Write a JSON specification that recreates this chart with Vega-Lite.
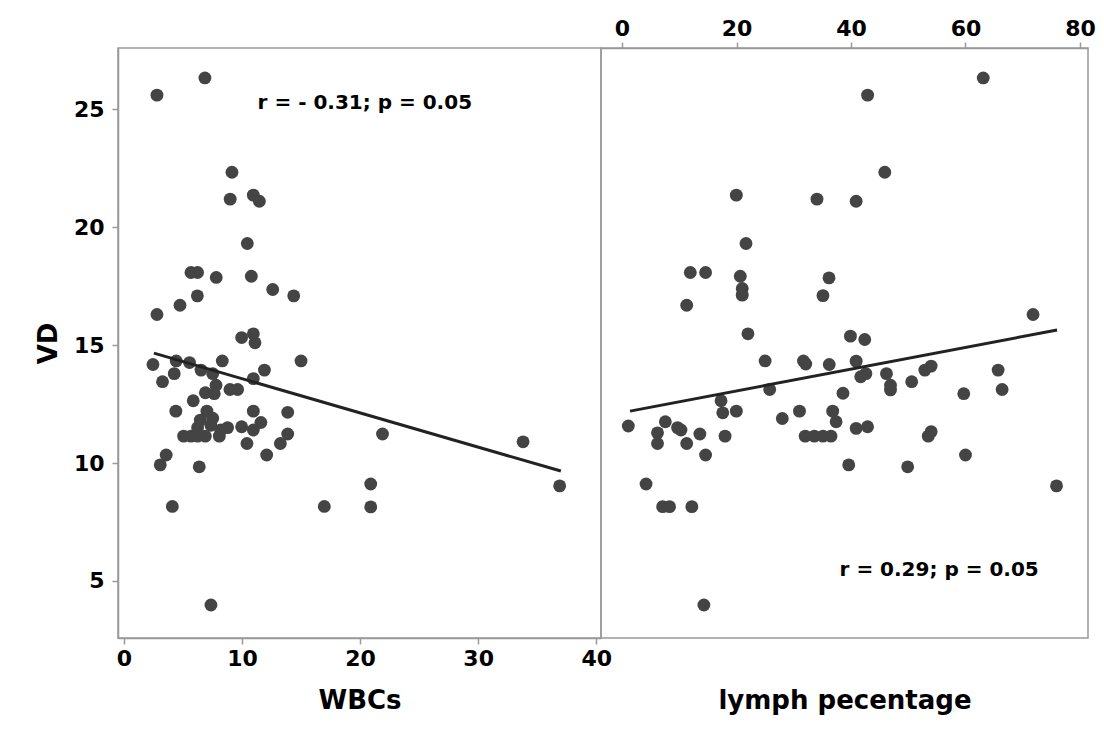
{
  "$schema": "https://vega.github.io/schema/vega-lite/v6.json",
  "background": "white",
  "padding": {"left": 34, "top": 16, "right": 10, "bottom": 10},
  "spacing": 0,
  "bounds": "flush",
  "config": {
    "view": {"stroke": "#999999", "strokeWidth": 1.5},
    "font": "DejaVu Sans",
    "axis": {
      "grid": false,
      "domainColor": "#999999",
      "tickColor": "#999999",
      "domainWidth": 1.5,
      "tickWidth": 1.5,
      "tickSize": 6,
      "labelFont": "DejaVu Sans",
      "labelFontWeight": "bold",
      "labelFontSize": 22,
      "labelColor": "#000000",
      "titleFont": "DejaVu Sans",
      "titleFontWeight": "bold",
      "titleFontSize": 26,
      "titleColor": "#000000"
    }
  },
  "datasets": {
    "wbc": [
      {"WBCs": 2.8, "VD": 25.6}, {"WBCs": 6.86, "VD": 26.33}, {"WBCs": 9.15, "VD": 22.33}, {"WBCs": 9.0, "VD": 21.19},
      {"WBCs": 10.96, "VD": 21.36}, {"WBCs": 11.47, "VD": 21.1}, {"WBCs": 10.45, "VD": 19.31}, {"WBCs": 5.68, "VD": 18.08},
      {"WBCs": 6.24, "VD": 18.08}, {"WBCs": 7.82, "VD": 17.87}, {"WBCs": 10.79, "VD": 17.92}, {"WBCs": 12.6, "VD": 17.36},
      {"WBCs": 14.38, "VD": 17.09}, {"WBCs": 6.22, "VD": 17.09}, {"WBCs": 4.75, "VD": 16.69}, {"WBCs": 2.8, "VD": 16.3},
      {"WBCs": 9.97, "VD": 15.32}, {"WBCs": 10.96, "VD": 15.48}, {"WBCs": 11.1, "VD": 15.1}, {"WBCs": 15.0, "VD": 14.33},
      {"WBCs": 2.46, "VD": 14.18}, {"WBCs": 4.43, "VD": 14.33}, {"WBCs": 5.56, "VD": 14.26}, {"WBCs": 8.33, "VD": 14.33},
      {"WBCs": 6.53, "VD": 13.94}, {"WBCs": 7.52, "VD": 13.79}, {"WBCs": 4.26, "VD": 13.79}, {"WBCs": 3.27, "VD": 13.45},
      {"WBCs": 11.9, "VD": 13.94}, {"WBCs": 10.96, "VD": 13.58}, {"WBCs": 7.8, "VD": 13.3}, {"WBCs": 6.9, "VD": 12.98},
      {"WBCs": 7.65, "VD": 12.94}, {"WBCs": 8.98, "VD": 13.12}, {"WBCs": 9.63, "VD": 13.12}, {"WBCs": 5.87, "VD": 12.64},
      {"WBCs": 4.4, "VD": 12.2}, {"WBCs": 7.03, "VD": 12.2}, {"WBCs": 10.96, "VD": 12.2}, {"WBCs": 13.87, "VD": 12.15},
      {"WBCs": 7.52, "VD": 11.9}, {"WBCs": 6.47, "VD": 11.82}, {"WBCs": 11.6, "VD": 11.72}, {"WBCs": 9.97, "VD": 11.54},
      {"WBCs": 8.78, "VD": 11.5}, {"WBCs": 10.96, "VD": 11.4}, {"WBCs": 13.87, "VD": 11.23}, {"WBCs": 5.06, "VD": 11.14},
      {"WBCs": 5.68, "VD": 11.14}, {"WBCs": 6.24, "VD": 11.14}, {"WBCs": 6.89, "VD": 11.14}, {"WBCs": 8.08, "VD": 11.14},
      {"WBCs": 6.24, "VD": 11.5}, {"WBCs": 7.37, "VD": 11.6}, {"WBCs": 8.2, "VD": 11.4}, {"WBCs": 10.42, "VD": 10.83},
      {"WBCs": 13.25, "VD": 10.83}, {"WBCs": 12.09, "VD": 10.34}, {"WBCs": 3.58, "VD": 10.34}, {"WBCs": 3.08, "VD": 9.92},
      {"WBCs": 6.38, "VD": 9.84}, {"WBCs": 4.1, "VD": 8.16}, {"WBCs": 16.97, "VD": 8.16}, {"WBCs": 7.37, "VD": 3.98},
      {"WBCs": 21.9, "VD": 11.23}, {"WBCs": 20.9, "VD": 9.11}, {"WBCs": 20.9, "VD": 8.14}, {"WBCs": 33.8, "VD": 10.9},
      {"WBCs": 36.9, "VD": 9.03}
    ],
    "wbcFit": [{"WBCs": 2.54, "VD": 14.66}, {"WBCs": 37.0, "VD": 9.66}],
    "lymph": [
      {"lymph": 19.97, "VD": 21.36}, {"lymph": 34.06, "VD": 21.19}, {"lymph": 40.9, "VD": 21.1}, {"lymph": 21.66, "VD": 19.31},
      {"lymph": 11.93, "VD": 18.08}, {"lymph": 14.6, "VD": 18.08}, {"lymph": 20.66, "VD": 17.92}, {"lymph": 21.0, "VD": 17.4},
      {"lymph": 21.0, "VD": 17.12}, {"lymph": 36.16, "VD": 17.85}, {"lymph": 35.1, "VD": 17.1}, {"lymph": 11.3, "VD": 16.69},
      {"lymph": 22.0, "VD": 15.48}, {"lymph": 39.9, "VD": 15.38}, {"lymph": 42.4, "VD": 15.24}, {"lymph": 42.9, "VD": 25.6},
      {"lymph": 63.1, "VD": 26.33}, {"lymph": 45.9, "VD": 22.33}, {"lymph": 71.8, "VD": 16.3}, {"lymph": 25.0, "VD": 14.33},
      {"lymph": 31.7, "VD": 14.33}, {"lymph": 32.1, "VD": 14.2}, {"lymph": 36.2, "VD": 14.18}, {"lymph": 40.9, "VD": 14.32},
      {"lymph": 41.7, "VD": 13.66}, {"lymph": 42.6, "VD": 13.79}, {"lymph": 38.6, "VD": 12.96}, {"lymph": 46.2, "VD": 13.79},
      {"lymph": 46.9, "VD": 13.3}, {"lymph": 46.9, "VD": 13.1}, {"lymph": 50.6, "VD": 13.45}, {"lymph": 52.9, "VD": 13.94},
      {"lymph": 54.0, "VD": 14.11}, {"lymph": 65.7, "VD": 13.94}, {"lymph": 66.4, "VD": 13.12}, {"lymph": 59.7, "VD": 12.94},
      {"lymph": 40.9, "VD": 11.47}, {"lymph": 42.9, "VD": 11.54}, {"lymph": 53.5, "VD": 11.14}, {"lymph": 54.0, "VD": 11.33},
      {"lymph": 39.6, "VD": 9.92}, {"lymph": 49.9, "VD": 9.84}, {"lymph": 60.0, "VD": 10.34}, {"lymph": 75.9, "VD": 9.03},
      {"lymph": 25.8, "VD": 13.12}, {"lymph": 17.3, "VD": 12.64}, {"lymph": 17.6, "VD": 12.13}, {"lymph": 19.97, "VD": 12.2},
      {"lymph": 28.0, "VD": 11.89}, {"lymph": 31.0, "VD": 12.2}, {"lymph": 36.8, "VD": 12.2}, {"lymph": 37.4, "VD": 11.75},
      {"lymph": 1.1, "VD": 11.57}, {"lymph": 7.57, "VD": 11.75}, {"lymph": 6.2, "VD": 11.28}, {"lymph": 6.2, "VD": 10.83},
      {"lymph": 9.7, "VD": 11.5}, {"lymph": 10.3, "VD": 11.4}, {"lymph": 11.3, "VD": 10.83}, {"lymph": 13.6, "VD": 11.23},
      {"lymph": 18.0, "VD": 11.14}, {"lymph": 14.6, "VD": 10.34}, {"lymph": 32.0, "VD": 11.14}, {"lymph": 33.6, "VD": 11.14},
      {"lymph": 35.1, "VD": 11.14}, {"lymph": 36.5, "VD": 11.14}, {"lymph": 4.2, "VD": 9.11}, {"lymph": 7.1, "VD": 8.15},
      {"lymph": 8.3, "VD": 8.15}, {"lymph": 12.2, "VD": 8.15}, {"lymph": 14.3, "VD": 3.98}
    ],
    "lymphFit": [{"lymph": 1.4, "VD": 12.2}, {"lymph": 76.0, "VD": 15.64}],
    "one": [{}]
  },
  "hconcat": [
    {
      "width": 483,
      "height": 590,
      "layer": [
        {
          "data": {"name": "wbc"},
          "mark": {"type": "circle", "size": 165, "color": "#444444", "opacity": 1},
          "encoding": {
            "x": {"field": "WBCs", "type": "quantitative",
                  "scale": {"domain": [-0.5, 40.4], "nice": false, "zero": false},
                  "axis": {"title": "WBCs", "values": [0, 10, 20, 30, 40], "titlePadding": 18, "labelPadding": 4}},
            "y": {"field": "VD", "type": "quantitative",
                  "scale": {"domain": [2.58, 27.6], "nice": false, "zero": false},
                  "axis": {"title": "VD", "values": [5, 10, 15, 20, 25], "titlePadding": 12, "labelPadding": 8}}
          }
        },
        {
          "data": {"name": "wbcFit"},
          "mark": {"type": "line", "color": "#222222", "strokeWidth": 3},
          "encoding": {
            "x": {"field": "WBCs", "type": "quantitative"},
            "y": {"field": "VD", "type": "quantitative"}
          }
        },
        {
          "data": {"name": "one"},
          "mark": {"type": "text", "fontSize": 20, "fontWeight": "bold", "font": "DejaVu Sans", "color": "#000000", "align": "center", "baseline": "middle"},
          "encoding": {
            "x": {"datum": 20.4, "type": "quantitative"},
            "y": {"datum": 25.25, "type": "quantitative"},
            "text": {"value": "r = - 0.31; p = 0.05"}
          }
        }
      ]
    },
    {
      "width": 487,
      "height": 590,
      "layer": [
        {
          "data": {"name": "lymph"},
          "mark": {"type": "circle", "size": 165, "color": "#444444", "opacity": 1},
          "encoding": {
            "x": {"field": "lymph", "type": "quantitative",
                  "scale": {"domain": [-3.67, 81.4], "nice": false, "zero": false},
                  "axis": {"orient": "top", "title": "lymph pecentage", "values": [0, 20, 40, 60, 80], "labelPadding": 2,
                           "titleX": 243.5, "titleY": 652, "titleAnchor": "middle", "titleAlign": "center", "titleBaseline": "middle", "titleAngle": 0}},
            "y": {"field": "VD", "type": "quantitative",
                  "scale": {"domain": [2.58, 27.6], "nice": false, "zero": false},
                  "axis": null}
          }
        },
        {
          "data": {"name": "lymphFit"},
          "mark": {"type": "line", "color": "#222222", "strokeWidth": 3},
          "encoding": {
            "x": {"field": "lymph", "type": "quantitative"},
            "y": {"field": "VD", "type": "quantitative"}
          }
        },
        {
          "data": {"name": "one"},
          "mark": {"type": "text", "fontSize": 20, "fontWeight": "bold", "font": "DejaVu Sans", "color": "#000000", "align": "center", "baseline": "middle"},
          "encoding": {
            "x": {"datum": 55.4, "type": "quantitative"},
            "y": {"datum": 5.47, "type": "quantitative"},
            "text": {"value": "r = 0.29; p = 0.05"}
          }
        }
      ]
    }
  ]
}
